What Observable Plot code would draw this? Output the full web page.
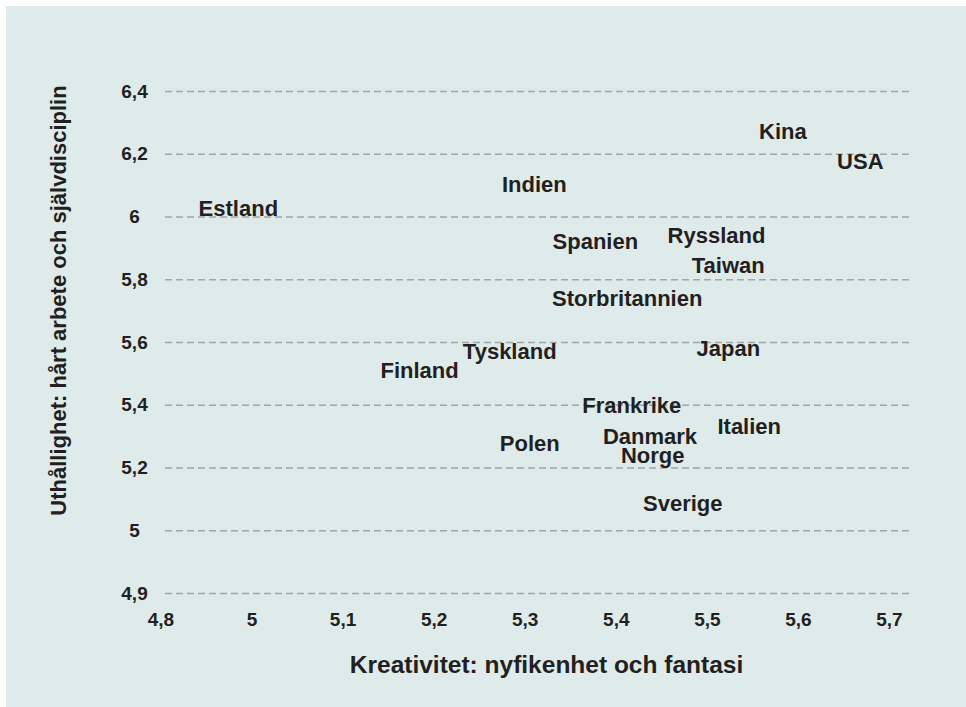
<!DOCTYPE html>
<html>
<head>
<meta charset="utf-8">
<script src="https://cdn.jsdelivr.net/npm/d3@7"></script>
<script src="https://cdn.jsdelivr.net/npm/@observablehq/plot@0.6"></script>
<style>
  html, body { margin: 0; padding: 0; background: #ffffff; }
  #chart { position: absolute; left: 6px; top: 6px; width: 960px; height: 701px; background: #dfeaea; }
  #chart svg { display: block; }
</style>
</head>
<body>
<div id="chart"></div>
<script>
// Data
const countries   = ["Kina","USA","Indien","Estland","Spanien","Ryssland","Taiwan","Storbritannien","Tyskland","Japan","Finland","Frankrike","Italien","Polen","Danmark","Norge","Sverige"];
const kreativitet = [5.583,5.668,5.310,4.985,5.377,5.510,5.523,5.412,5.283,5.523,5.184,5.417,5.546,5.305,5.437,5.440,5.473];
const uthallighet = [6.271,6.177,6.102,6.027,5.919,5.939,5.845,5.739,5.571,5.578,5.508,5.399,5.332,5.278,5.300,5.238,5.084];

const xTicks      = [4.9, 5.0, 5.1, 5.2, 5.3, 5.4, 5.5, 5.6, 5.7];
const xTickLabels = ["4,8","5","5,1","5,2","5,3","5,4","5,5","5,6","5,7"];
const yTicks      = [4.8, 5.0, 5.2, 5.4, 5.6, 5.8, 6.0, 6.2, 6.4];
const yTickLabels = ["4,9","5","5,2","5,4","5,6","5,8","6","6,2","6,4"];

const xTitle = "Kreativitet: nyfikenhet och fantasi";
const yTitle = "Uthållighet: hårt arbete och självdisciplin";

const data = countries.map((c, i) => ({country: c, x: kreativitet[i], y: uthallighet[i]}));
const lab = (ticks, labels) => d => labels[ticks.findIndex(t => Math.abs(t - d) < 1e-9)];

const ink = "#231f20";
const font = "'Liberation Sans', Arial, Helvetica, sans-serif";

const chart = Plot.plot({
  width: 960,
  height: 701,
  marginLeft: 159,
  marginRight: 57,
  marginTop: 85,
  marginBottom: 114,
  style: {fontFamily: font, background: "transparent", color: ink, overflow: "visible"},
  x: {domain: [4.905, 5.722]},
  y: {domain: [4.8, 6.4]},
  marks: [
    Plot.ruleY(yTicks, {stroke: "#a2a6a8", strokeWidth: 1.3, strokeDasharray: "7,4"}),
    Plot.axisX({ticks: xTicks, tickFormat: lab(xTicks, xTickLabels), tickSize: 0, tickPadding: 19,
                fontSize: 19, fontWeight: "bold", fill: ink, label: null}),
    Plot.axisY({ticks: yTicks, tickFormat: lab(yTicks, yTickLabels), tickSize: 0, tickPadding: 31,
                textAnchor: "middle", fontSize: 19, fontWeight: "bold", fill: ink, label: null}),
    Plot.text(data, {x: "x", y: "y", text: "country", fontSize: 22, fontWeight: "bold", fill: ink, textAnchor: "middle"}),
    Plot.text([xTitle], {frameAnchor: "bottom", dx: 9, dy: 79, fontSize: 24.5, fontWeight: "bold", fill: ink, textAnchor: "middle"}),
    Plot.text([yTitle], {frameAnchor: "left", rotate: -90, dx: -107, dy: -42, fontSize: 22, fontWeight: "bold", fill: ink, textAnchor: "middle"})
  ]
});
document.getElementById("chart").appendChild(chart);
</script>
</body>
</html>
